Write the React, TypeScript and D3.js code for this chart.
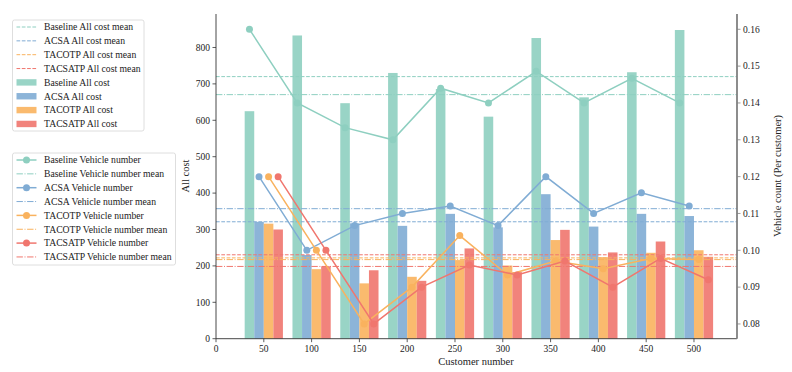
import { useEffect } from "react";
import * as d3 from "d3";

const W = 792;
const H = 372;
const PLOT = { left: 216, right: 737, top: 14, bottom: 338.7 };
const FONT = '"Liberation Serif", "DejaVu Serif", serif';

const customers = [50, 100, 150, 200, 250, 300, 350, 400, 450, 500];

const baselineCost = [625, 833, 647, 730, 686, 610, 826, 663, 732, 848];
const acsaCost = [321, 230, 317, 310, 343, 306, 397, 308, 343, 337];
const tacotpCost = [316, 191, 152, 170, 216, 201, 271, 224, 236, 243];
const tacsatpCost = [300, 199, 188, 159, 248, 183, 299, 237, 267, 225];

const baselineVehicle = [0.16, 0.14, 0.1333, 0.13, 0.144, 0.14, 0.1486, 0.14, 0.1467, 0.14];
const acsaVehicle = [0.12, 0.1, 0.1067, 0.11, 0.112, 0.1067, 0.12, 0.11, 0.1156, 0.112];
const tacotpVehicle = [0.12, 0.1, 0.08, 0.09, 0.104, 0.0933, 0.0971, 0.095, 0.0978, 0.0975];
const tacsatpVehicle = [0.12, 0.1, 0.08, 0.09, 0.096, 0.0933, 0.0971, 0.09, 0.0978, 0.092];

const methods = ["Baseline", "ACSA", "TACOTP", "TACSATP"];
const colors = ["#8ECFC0", "#80ACD4", "#F9B25E", "#F0766E"];
const costSeries = [baselineCost, acsaCost, tacotpCost, tacsatpCost];
const vehicleSeries = [baselineVehicle, acsaVehicle, tacotpVehicle, tacsatpVehicle];
const offsets = [-15, -5, 5, 15];
const BAR_W = 10;

const costTicks = [0, 100, 200, 300, 400, 500, 600, 700, 800];
const vehicleTicks = [0.08, 0.09, 0.1, 0.11, 0.12, 0.13, 0.14, 0.15, 0.16];
const xTicks = [0, 50, 100, 150, 200, 250, 300, 350, 400, 450, 500];

const DASHED = "3.7,1.6";
const DASHDOT = "6.4,1.6,1,1.6";

export default function App() {
  useEffect(() => {
    document.body.style.margin = "0";
  }, []);

  const x = d3.scaleLinear().domain([0, 545]).range([PLOT.left, PLOT.right]);
  const yCost = d3.scaleLinear().domain([0, 892]).range([PLOT.bottom, PLOT.top]);
  const yVeh = d3.scaleLinear().domain([0.076, 0.16415]).range([PLOT.bottom, PLOT.top]);

  const costMeans = costSeries.map((s) => d3.mean(s) ?? 0);
  const vehicleMeans = vehicleSeries.map((s) => d3.mean(s) ?? 0);

  const legend1 = [
    ...methods.map((m, i) => ({ label: `${m} All cost mean`, kind: "dash", color: colors[i] })),
    ...methods.map((m, i) => ({ label: `${m} All cost`, kind: "bar", color: colors[i] })),
  ];
  const legend2 = methods.flatMap((m, i) => [
    { label: `${m} Vehicle number`, kind: "marker", color: colors[i] },
    { label: `${m} Vehicle number mean`, kind: "dashdot", color: colors[i] },
  ]);

  const renderLegend = (items, top, boxW, boxH) => (
    <g>
      <rect x={12.5} y={top} width={boxW} height={boxH} rx={2} fill="white" stroke="#d6d6d6" strokeWidth={0.8} />
      {items.map((it, i) => {
        const cy = top + 7 + i * 13.85;
        return (
          <g key={it.label}>
            {it.kind === "bar" && (
              <rect x={16.5} y={cy - 3.2} width={20} height={6.4} fill={it.color} opacity={0.9} />
            )}
            {it.kind === "dash" && (
              <line x1={16.5} x2={36.5} y1={cy} y2={cy} stroke={it.color} strokeWidth={1} strokeDasharray={DASHED} />
            )}
            {it.kind === "dashdot" && (
              <line x1={16.5} x2={36.5} y1={cy} y2={cy} stroke={it.color} strokeWidth={1} strokeDasharray={DASHDOT} />
            )}
            {it.kind === "marker" && (
              <g>
                <line x1={16.5} x2={36.5} y1={cy} y2={cy} stroke={it.color} strokeWidth={1.5} />
                <circle cx={26.5} cy={cy} r={3.5} fill={it.color} />
              </g>
            )}
            <text x={44} y={cy} dy="0.35em" fontSize={9.7} fontFamily={FONT} fill="#222">
              {it.label}
            </text>
          </g>
        );
      })}
    </g>
  );

  return (
    <svg width={W} height={H} style={{ display: "block", background: "white" }}>
      {/* bars */}
      {costSeries.map((series, si) =>
        series.map((v, i) => (
          <rect
            key={`b${si}-${i}`}
            x={x(customers[i] + offsets[si] - BAR_W / 2)}
            y={yCost(v)}
            width={x(BAR_W) - x(0)}
            height={yCost(0) - yCost(v)}
            fill={colors[si]}
            opacity={0.9}
          />
        ))
      )}

      {/* cost means */}
      {costMeans.map((m, i) => (
        <line
          key={`cm${i}`}
          x1={PLOT.left}
          x2={PLOT.right}
          y1={yCost(m)}
          y2={yCost(m)}
          stroke={colors[i]}
          strokeWidth={1}
          strokeDasharray={DASHED}
        />
      ))}

      {/* vehicle means */}
      {vehicleMeans.map((m, i) => (
        <line
          key={`vm${i}`}
          x1={PLOT.left}
          x2={PLOT.right}
          y1={yVeh(m)}
          y2={yVeh(m)}
          stroke={colors[i]}
          strokeWidth={1}
          strokeDasharray={DASHDOT}
        />
      ))}

      {/* vehicle lines */}
      {vehicleSeries.map((series, si) => {
        const line = d3
          .line<number>()
          .x((_, i) => x(customers[i] + offsets[si]))
          .y((v) => yVeh(v));
        return (
          <g key={`vl${si}`}>
            <path d={line(series) ?? ""} fill="none" stroke={colors[si]} strokeWidth={1.5} />
            {series.map((v, i) => (
              <circle key={i} cx={x(customers[i] + offsets[si])} cy={yVeh(v)} r={3.5} fill={colors[si]} />
            ))}
          </g>
        );
      })}

      {/* axes */}
      <line x1={PLOT.left} x2={PLOT.left} y1={PLOT.top} y2={PLOT.bottom} stroke="#333" strokeWidth={0.9} />
      <line x1={PLOT.left} x2={PLOT.right} y1={PLOT.bottom} y2={PLOT.bottom} stroke="#333" strokeWidth={0.9} />
      <line x1={PLOT.right} x2={PLOT.right} y1={PLOT.top} y2={PLOT.bottom} stroke="#808080" strokeWidth={1.8} />

      {costTicks.map((t) => (
        <g key={`ct${t}`}>
          <line x1={PLOT.left - 3.5} x2={PLOT.left} y1={yCost(t)} y2={yCost(t)} stroke="#333" strokeWidth={0.8} />
          <text x={PLOT.left - 6} y={yCost(t)} dy="0.35em" textAnchor="end" fontSize={9.5} fontFamily={FONT} fill="#222">
            {t}
          </text>
        </g>
      ))}
      {vehicleTicks.map((t) => (
        <g key={`vt${t}`}>
          <line x1={PLOT.right} x2={PLOT.right + 3.5} y1={yVeh(t)} y2={yVeh(t)} stroke="#808080" strokeWidth={0.8} />
          <text x={PLOT.right + 6} y={yVeh(t)} dy="0.35em" fontSize={9.5} fontFamily={FONT} fill="#222">
            {d3.format(".2f")(t)}
          </text>
        </g>
      ))}
      {xTicks.map((t) => (
        <g key={`xt${t}`}>
          <line x1={x(t)} x2={x(t)} y1={PLOT.bottom} y2={PLOT.bottom + 3.5} stroke="#333" strokeWidth={0.8} />
          <text x={x(t)} y={PLOT.bottom + 13} textAnchor="middle" fontSize={9.5} fontFamily={FONT} fill="#222">
            {t}
          </text>
        </g>
      ))}

      <text x={476} y={365} textAnchor="middle" fontSize={10.5} fontFamily={FONT} fill="#222">
        Customer number
      </text>
      <text transform={`translate(189,176) rotate(-90)`} textAnchor="middle" fontSize={10.5} fontFamily={FONT} fill="#222">
        All cost
      </text>
      <text transform={`translate(781,176) rotate(-90)`} textAnchor="middle" fontSize={10.5} fontFamily={FONT} fill="#222">
        Vehicle count (Per customer)
      </text>

      {renderLegend(legend1, 20, 131.5, 111)}
      {renderLegend(legend2, 153, 163, 112)}
    </svg>
  );
}
